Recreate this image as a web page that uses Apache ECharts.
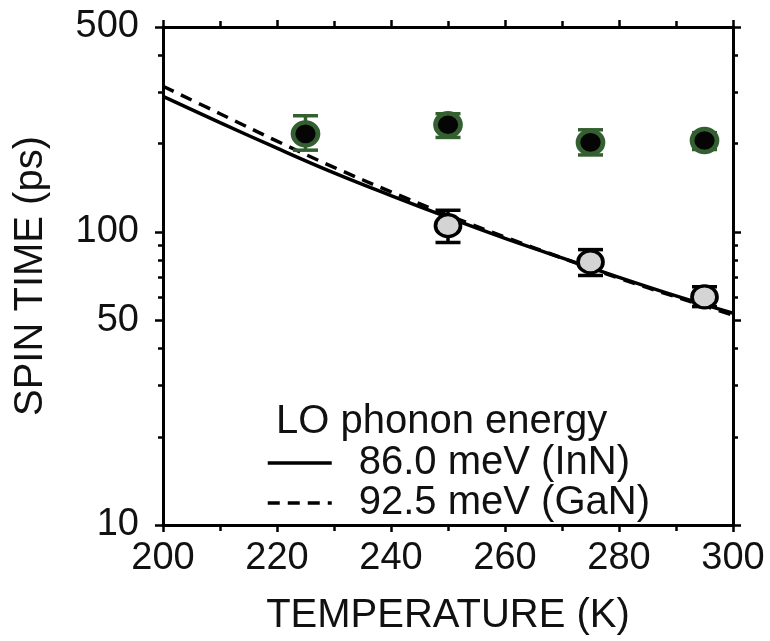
<!DOCTYPE html>
<html>
<head>
<meta charset="utf-8">
<script src="https://cdn.jsdelivr.net/npm/echarts@6/dist/echarts.min.js"></script>
<style>html,body{margin:0;padding:0;background:#fff}#c{width:770px;height:641px}</style>
</head>
<body>
<div id="c"></div>
<script>
// ---- data ----
var curveTemps = [200, 210, 220, 230, 240, 250, 260, 270, 280, 290, 300];
var inNCurve   = [290, 236, 193, 159, 133, 112, 95, 81.5, 70, 60.5, 52.8];
var gaNCurve   = [314, 253, 204, 166, 137, 114, 96, 81.5, 69.5, 60, 52];
var greenTemps = [225, 250, 275, 295];
var greenVals  = [216, 232, 202, 205];
var greenLow   = [190, 210, 183, 191];
var greenHigh  = [249, 253, 223, 218];
var greyTemps  = [250, 275, 295];
var greyVals   = [105, 79, 60];
var greyLow    = [92, 71, 55.6];
var greyHigh   = [118.5, 87, 65];
var yMajorTicks = [10, 50, 100, 500];
var yMinorTicks = [20, 30, 40, 60, 70, 80, 90, 200, 300, 400];
var seriesNames = ['86.0 meV (InN)', '92.5 meV (GaN)'];
var legendTitle = 'LO phonon energy';
var xName = 'TEMPERATURE (K)';
var yName = 'SPIN TIME (ps)';

var FONT = '"Liberation Sans", Arial, sans-serif';
var FS_TICK = 38;
var FS_NAME = 40;
var FS_LEG = 40;
var GREEN = '#345f30';

function zip(a, b) { return a.map(function (v, i) { return [v, b[i]]; }); }
function errData(t, lo, hi) { return t.map(function (v, i) { return [v, lo[i], hi[i]]; }); }
function errRender(color) {
  return function (params, api) {
    var x = api.value(0);
    var lo = api.coord([x, api.value(1)]);
    var hi = api.coord([x, api.value(2)]);
    var hw = 12.5;
    var st = { stroke: color, lineWidth: 3.5 };
    return { type: 'group', children: [
      { type: 'line', shape: { x1: lo[0], y1: lo[1], x2: hi[0], y2: hi[1] }, style: st },
      { type: 'line', shape: { x1: lo[0] - hw, y1: lo[1], x2: lo[0] + hw, y2: lo[1] }, style: st },
      { type: 'line', shape: { x1: hi[0] - hw, y1: hi[1], x2: hi[0] + hw, y2: hi[1] }, style: st }
    ]};
  };
}

var axLine = { show: true, onZero: false, lineStyle: { color: '#000', width: 3 } };
function xAx(pos, labels) {
  return {
    type: 'value', min: 200, max: 300, interval: 20, position: pos,
    axisLine: axLine,
    axisTick: { show: true, inside: false, length: 7, lineStyle: { color: '#000', width: 2.5 } },
    minorTick: { show: true, splitNumber: 2, length: 6, lineStyle: { color: '#000', width: 2.5 } },
    axisLabel: { show: labels, fontSize: FS_TICK, fontFamily: FONT, color: '#111', margin: 15 },
    splitLine: { show: false },
    name: labels ? xName : '', nameLocation: 'middle', nameGap: 71,
    nameTextStyle: { fontSize: FS_NAME, fontFamily: FONT, color: '#111' }
  };
}
function yAx(pos, major, labels) {
  return {
    type: 'log', logBase: 10, min: 10, max: 500, position: pos,
    axisLine: axLine,
    axisTick: { show: true, inside: false, length: major ? 8 : 5, customValues: major ? yMajorTicks : yMinorTicks,
                lineStyle: { color: '#000', width: 2.5 } },
    axisLabel: labels ? { show: true, customValues: yMajorTicks, fontSize: FS_TICK, fontFamily: FONT, color: '#111', margin: 24 }
                      : { show: false },
    splitLine: { show: false },
    name: labels ? yName : '', nameLocation: 'middle', nameGap: 112, nameRotate: 90,
    nameTextStyle: { fontSize: FS_NAME, fontFamily: FONT, color: '#111' }
  };
}

var chart = echarts.init(document.getElementById('c'), null, { renderer: 'canvas' });
chart.setOption({
  animation: false,
  backgroundColor: '#fff',
  grid: { left: 163, right: 37, top: 27, bottom: 105, containLabel: false },
  title: { text: legendTitle, left: 276, top: 402, padding: 0,
           textStyle: { fontSize: FS_LEG, fontWeight: 'normal', fontFamily: FONT, color: '#111', lineHeight: 40 } },
  legend: {
    data: seriesNames, orient: 'vertical', left: 266, top: 443, padding: 0,
    itemWidth: 64, itemHeight: 14, itemGap: 0,
    itemStyle: { opacity: 0 },
    lineStyle: { width: 3.5 },
    textStyle: { fontSize: FS_LEG, fontFamily: FONT, color: '#111', lineHeight: 37, padding: [0, 0, 0, 22] }
  },
  xAxis: [xAx('bottom', true), xAx('top', false)],
  yAxis: [yAx('left', true, true), yAx('left', false, false), yAx('right', true, false), yAx('right', false, false)],
  series: [
    { name: seriesNames[0], type: 'line', data: zip(curveTemps, inNCurve), smooth: 0.4, symbol: 'none',
      lineStyle: { color: '#000', width: 3.5 }, itemStyle: { color: '#000' }, z: 2 },
    { name: seriesNames[1], type: 'line', data: zip(curveTemps, gaNCurve), smooth: 0.4, symbol: 'none',
      lineStyle: { color: '#000', width: 3.5, type: [12, 8] }, itemStyle: { color: '#000' }, z: 2 },
    { type: 'custom', renderItem: errRender(GREEN), data: errData(greenTemps, greenLow, greenHigh), z: 3 },
    { type: 'scatter', data: zip(greenTemps, greenVals), symbol: 'circle', symbolSize: [25, 23],
      itemStyle: { color: '#050505', borderColor: GREEN, borderWidth: 4.5, opacity: 1 }, z: 4 },
    { type: 'custom', renderItem: errRender('#000'), data: errData(greyTemps, greyLow, greyHigh), z: 3 },
    { type: 'scatter', data: zip(greyTemps, greyVals), symbol: 'circle', symbolSize: [25, 22],
      itemStyle: { color: '#d4d4d4', borderColor: '#000', borderWidth: 3.5, opacity: 1 }, z: 4 }
  ]
});
</script>
</body>
</html>
